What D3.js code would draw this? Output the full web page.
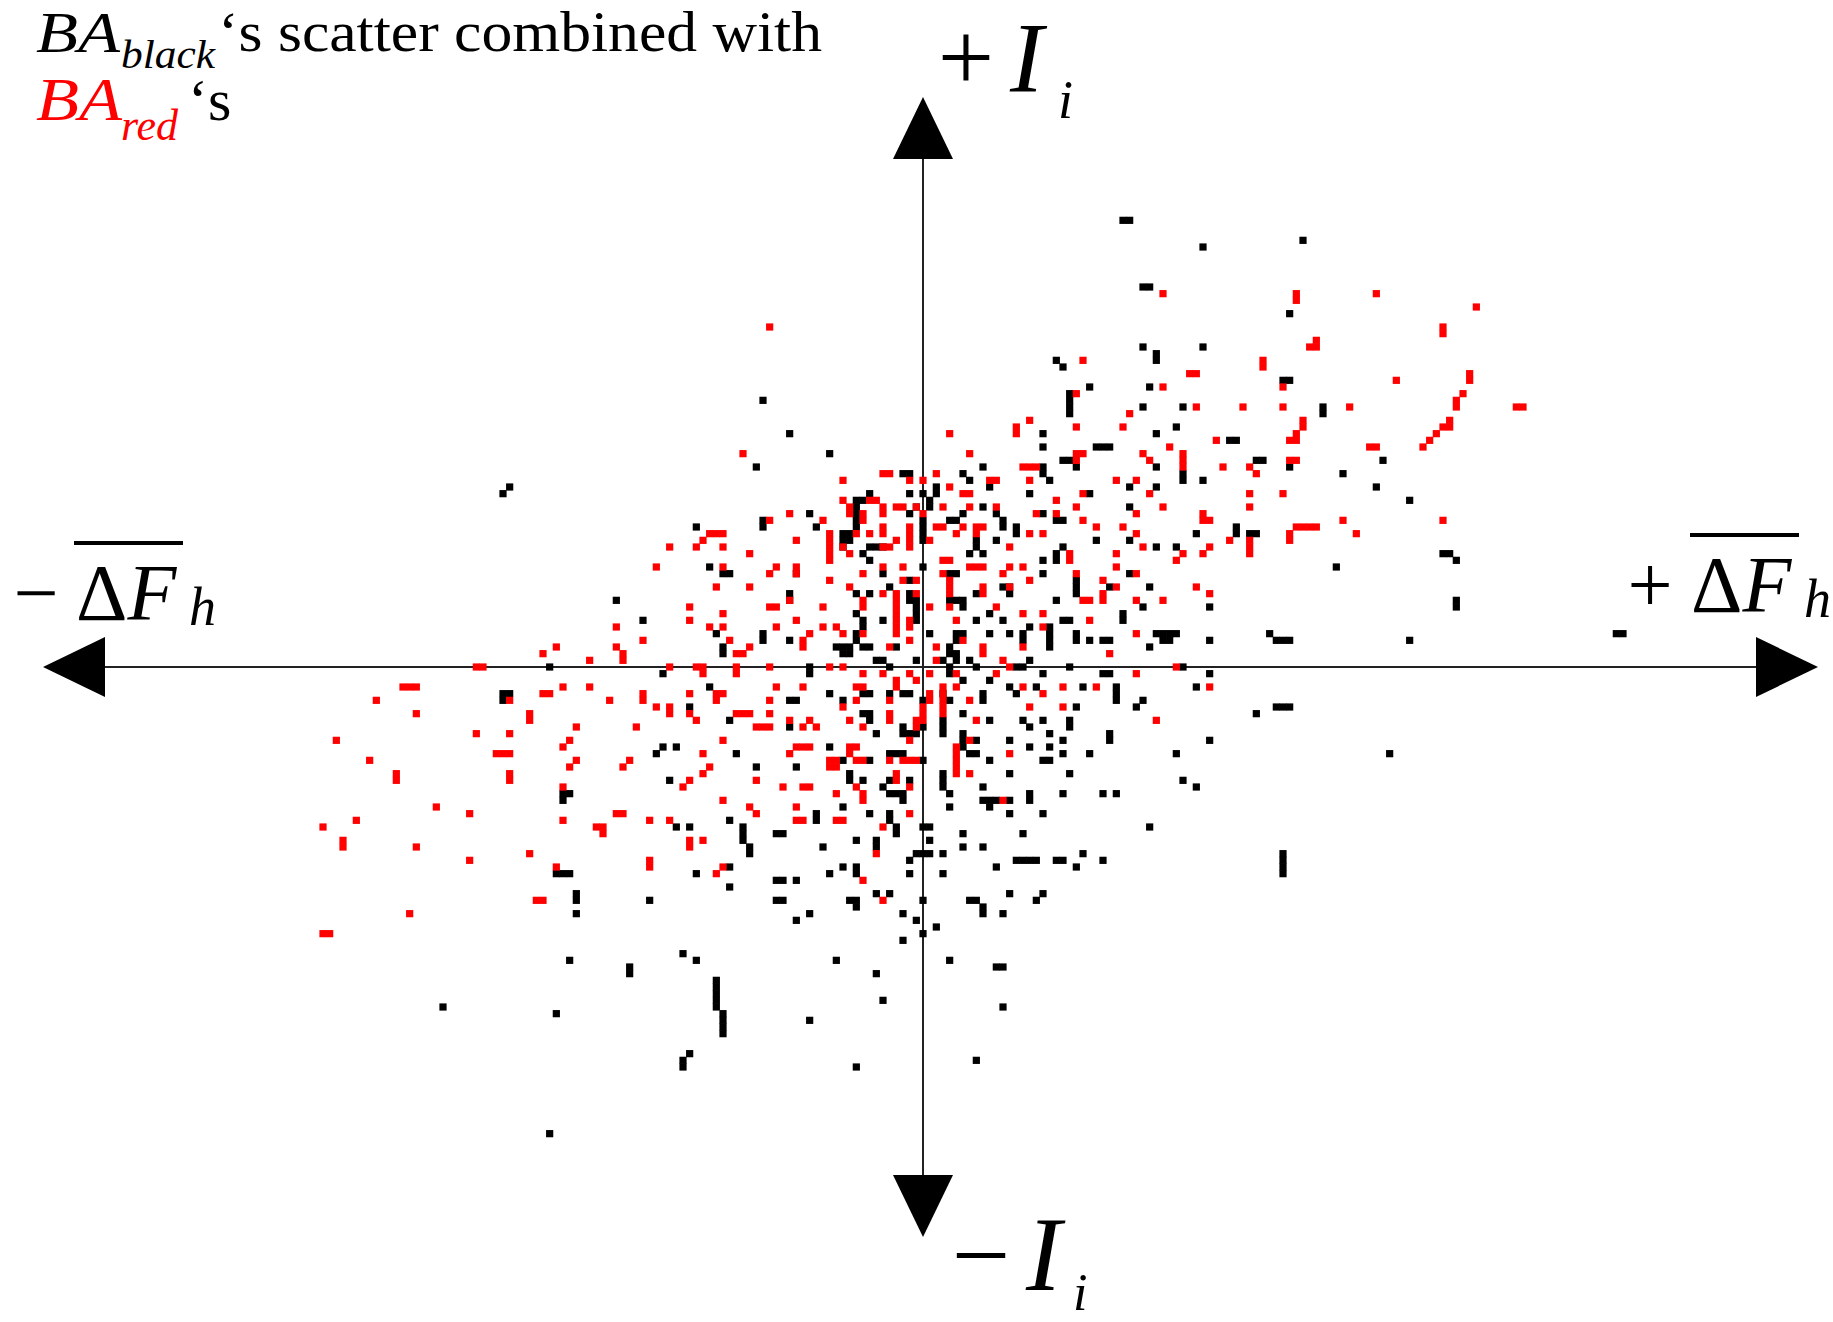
<!DOCTYPE html>
<html>
<head>
<meta charset="utf-8">
<script src="https://cdn.jsdelivr.net/npm/d3@7"></script>
<style>
  html, body { margin: 0; padding: 0; background: #fff; }
  svg { display: block; }
  text { font-family: "Liberation Serif", "Times New Roman", serif; }
</style>
</head>
<body>
<svg id="chart" width="1833" height="1322"></svg>
<script>
// Grid cells of the two scatters, in axis units: [ΔF_h, I_i]
const blackCore = [
  [-8,16],[0,15],[-6,14],[4,14],[5,14],[-2,13],[-5,12],[12,12],[13,12],[13,11],[-10,11],[-8,11],[-2,11],[-2,10],[8,11],[4,10],[5,10],[6,10],
  [6,9],[-10,8],[-1,10],[-1,9],[-1,8],[-1,7],[10,8],[-9,7],[-9,6],[-6,7],[8,7],[12,7],[16,6],[-10,5],[-10,4],[1,5],[5,5],[6,5],[5,4],[10,5],
  [13,5],[15,5],[15,4],[-9,3],[-8,3],[-4,3],[-13,3],[-12,3],[-11,3],[-12,2],[-11,2],[4,3],[4,2],[5,2],[7,1],[3,1],[5,1],[-1,1],[-7,1],[-6,1],
  [16,1],[14,0],[15,0],[-5,0],[4,0],[4,-1],[6,-2],[8,0],[10,-2],[13,-3],[17,-3],[-14,-4],[-9,-4],[-8,-4],[-5,-4],[-3,-4],[-2,-4],[3,-4],[4,-5],
  [9,-4],[9,-5],[14,-4],[-12,-5],[0,-5],[-9,-7],[-8,-7],[-8,-8],[6,-7],[10,-8],[15,-8],[3,-8],[3,-9],[3,-10],[16,-9],[-7,-10],[-3,-9],[-3,-10],
  [-2,-10],[-1,-10],[0,-9],[6,-10],[6,-11],[6,-12],[8,-11],[13,-11],[16,-12],[-14,-12],[-12,-14],[-8,-14],[-5,-13],[-4,-13],[-3,-13],[0,-14],
  [7,-13],[8,-13],[10,-14],[13,-16],[-11,-16],[3,-16]
];

const blackOuter = [
  // upper right
  [30,67],[31,67],[42,63],[57,64],[33,57],[34,57],[55,53],[33,48],[42,48],[35,47],[35,46],[20,46],[21,45],[54,43],[55,43],[25,42],[34,42],
  [22,41],[22,40],[22,39],[22,38],[33,39],[39,39],[60,39],[60,38],[38,36],[35,35],[18,35],[18,33],[26,33],[27,33],[28,33],[46,34],[47,34],
  [21,31],[22,31],[23,30],[18,30],[18,29],[50,31],[51,31],[55,30],[35,30],[69,31],[63,29],
  [6,29],[9,30],[7,28],[19,28],[39,29],[39,28],[42,28],[2,27],[2,26],[10,27],[31,27],[35,27],[68,27],[0,26],[16,26],[25,26],[73,25],[9,24],
  [31,24],[1,25],[1,24],[6,23],[11,23],[18,23],[0,22],[0,21],[0,20],[0,19],[4,22],[5,22],[12,22],[12,21],[20,22],[21,22],[14,21],[14,20],
  [41,20],[47,21],[47,20],[49,20],[50,20],[11,19],[8,19],[8,18],[26,19],[31,19],[21,18],[35,18],[38,18],[7,17],[9,17],[78,17],[79,17],[80,16],
  [20,17],[20,16],[18,16],[62,15],[18,14],[31,14],[28,12],[34,12],[23,13],[23,12],[23,11],[20,10],[33,9],[43,9],[80,10],[80,9],[21,7],[22,7],
  [30,8],[30,7],[19,6],[19,5],[19,4],[19,3],[23,5],[23,4],[35,5],[36,5],[37,5],[38,5],[36,4],[37,4],[52,5],[25,4],[27,4],[28,4],[43,4],
  [53,4],[54,4],[55,4],[73,4],[104,5],[105,5],[34,3],[22,0],[39,0],
  // upper left
  [-24,40],[-20,35],[-14,32],[-25,30],[-63,26],[-62,27],[-34,21],[-46,10],[-42,7],[-56,0],[-2,29],[-3,29],[-8,26],[-10,25],[-10,24],[-9,25],
  [-17,23],[-24,22],[-24,21],[-16,21],[-12,20],[-12,19],[-12,18],[-11,20],[-11,19],[-10,23],[-10,22],[-10,21],[-8,18],[-7,18],[-6,18],[-32,15],
  [-30,14],[-29,14],[-19,14],[-9,17],[-20,11],[-20,10],[-24,5],[-24,4],[-20,4],[-31,5],[-30,3],[-30,2],[-2,26],[-1,24],[-2,23],[-17,0],
  // lower right
  [18,-1],[27,-1],[28,-1],[43,-1],[24,-3],[29,-3],[29,-4],[29,-5],[41,-3],[33,-5],[23,-6],[32,-6],[53,-6],[54,-6],[55,-6],[50,-7],[18,-8],
  [22,-8],[22,-9],[19,-10],[21,-11],[28,-10],[28,-11],[43,-11],[19,-12],[21,-13],[25,-13],[38,-13],[70,-13],[18,-14],[19,-14],[3,-17],[3,-18],
  [22,-16],[39,-17],[41,-18],[9,-18],[4,-19],[16,-19],[16,-20],[21,-19],[27,-19],[29,-19],[9,-20],[10,-20],[11,-20],[13,-20],[4,-21],[10,-21],
  [13,-22],[18,-22],[0,-24],[1,-24],[34,-24],[6,-25],[15,-25],[1,-26],[6,-27],[9,-27],[0,-28],[1,-28],[3,-28],[24,-28],[54,-28],[54,-29],
  [54,-30],[54,-31],[14,-29],[15,-29],[16,-29],[17,-29],[20,-29],[21,-29],[27,-29],[11,-30],[23,-30],[3,-31],[13,-34],[18,-34],[0,-35],[7,-35],
  [8,-35],[17,-35],[9,-36],[9,-37],[12,-37],[2,-39],[0,-40],[4,-44],[11,-45],[12,-45],[12,-51],[8,-59],
  // lower left
  [-39,-1],[-32,-3],[-17,-1],[-63,-4],[-62,-4],[-63,-5],[-20,-5],[-19,-5],[-35,-6],[-29,-8],[-20,-9],[-39,-12],[-37,-12],[-40,-13],[-28,-13],
  [-25,-15],[-19,-15],[-38,-17],[-11,-17],[-9,-17],[-5,-17],[-2,-17],[-54,-19],[-53,-19],[-54,-20],[-6,-18],[-5,-19],[-4,-19],[-3,-19],[-3,-20],
  [-12,-21],[-16,-22],[-16,-23],[-8,-22],[-5,-22],[-5,-23],[-29,-23],[-37,-24],[-35,-24],[-27,-24],[-27,-25],[-27,-26],[-22,-25],[-21,-25],
  [-4,-24],[-4,-25],[-26,-27],[-26,-28],[-15,-27],[-10,-26],[-7,-26],[-7,-27],[-1,-28],[-2,-29],[-55,-31],[-54,-31],[-53,-31],[-29,-30],
  [-34,-31],[-14,-31],[-12,-30],[-10,-30],[-10,-31],[-2,-31],[-22,-32],[-21,-32],[-19,-32],[-29,-33],[-52,-34],[-52,-35],[-41,-35],[-22,-35],
  [-21,-35],[-7,-34],[-5,-34],[-11,-35],[-10,-35],[-10,-36],[-52,-37],[-17,-37],[-19,-38],[-3,-37],[-1,-38],[-3,-41],[-36,-43],[-34,-44],
  [-53,-44],[-13,-44],[-44,-45],[-44,-46],[-7,-46],[-31,-47],[-31,-48],[-31,-49],[-31,-50],[-31,-51],[-30,-52],[-30,-53],[-30,-54],[-30,-55],
  [-6,-50],[-72,-51],[-55,-52],[-17,-53],[-35,-58],[-36,-59],[-36,-60],[-10,-60],[-56,-70]
];

const redCore = [
  [-14,16],[-6,15],[-3,15],[3,16],[4,16],[7,15],[8,15],[9,15],[13,15],[15,15],[-9,14],[3,14],[12,14],[16,13],[-14,13],[-3,13],[-1,13],[4,13],
  [13,12],[-11,12],[-6,11],[-4,11],[-4,10],[-4,9],[-4,8],[-4,7],[-4,6],[-4,5],[-1,11],[4,12],[4,11],[9,12],[9,11],[-9,10],[-9,9],[-15,9],
  [1,9],[4,9],[11,9],[15,8],[-2,7],[-2,6],[5,7],[-15,6],[-13,6],[-12,5],[-9,5],[6,4],[-2,4],[-5,3],[2,3],[9,3],[9,2],[15,3],[12,1],[2,1],
  [-12,0],[-14,0],[-6,-1],[-2,-1],[5,-1],[1,-1],[11,-1],[13,0],[-9,-1],[-4,-2],[-4,-3],[-1,-2],[-10,-3],[-9,-3],[1,-4],[1,-5],[3,-3],[3,-4],
  [3,-5],[3,-6],[3,-7],[5,-3],[15,-3],[16,-6],[7,-5],[-12,-6],[-10,-5],[-5,-5],[0,-6],[0,-7],[0,-8],[-1,-8],[-5,-7],[-5,-8],[-11,-8],[-9,-9],
  [8,-8],[-2,-11],[-1,-9],[7,-11],[13,-13],[5,-12],[-11,-12],[-10,-12],[-11,-13],[-14,-14],[-13,-14],[-10,-14],[-9,-14],[-5,-14],[-3,-14],
  [-2,-14],[-1,-14],[5,-13],[5,-14],[5,-15],[5,-16],[-14,-15],[-13,-15],[-4,-16],[7,-16]
];

const redOuter = [
  // upper right
  [36,56],[56,56],[56,55],[68,56],[83,54],[78,51],[78,50],[59,49],[58,48],[59,48],[24,46],[51,46],[51,45],[40,44],[41,44],[54,42],[71,43],
  [82,44],[82,43],[81,41],[80,40],[80,39],[79,37],[79,36],[78,36],[77,35],[76,34],[75,33],[89,39],[90,39],[23,41],[36,42],[41,39],[48,39],
  [54,39],[64,39],[31,38],[16,37],[14,36],[14,35],[23,36],[30,36],[57,37],[57,36],[56,35],[55,34],[56,34],[4,35],[37,33],[44,34],[67,33],
  [68,33],[7,32],[23,32],[24,32],[23,31],[33,32],[34,31],[39,32],[39,31],[39,30],[15,30],[16,30],[17,30],[49,30],[50,29],[55,31],[56,31],[45,30],
  [2,29],[0,28],[10,28],[11,28],[16,28],[29,28],[32,28],[4,27],[6,26],[7,26],[24,26],[34,26],[49,26],[54,26],[3,24],[7,24],[11,24],[20,25],
  [23,24],[36,24],[49,24],[0,23],[17,23],[20,23],[32,23],[42,23],[2,21],[3,21],[6,21],[8,21],[9,21],[8,20],[24,22],[26,21],[30,21],[42,22],
  [43,22],[56,21],[57,21],[58,21],[59,21],[63,22],[78,22],[32,20],[65,20],[16,20],[18,20],[5,20],[55,20],[55,19],[46,19],[49,19],[1,19],[13,18],
  [33,18],[43,18],[49,18],[49,17],[22,17],[22,16],[29,17],[39,17],[42,17],[38,16],[29,15],[23,14],[32,14],[27,13],[29,12],[41,12],[43,11],
  [24,10],[25,10],[27,11],[27,10],[32,10],[36,10],[18,8],[25,7],[18,6],[32,5],[28,2],[38,0],
  // upper left
  [-23,51],[-27,32],[-12,28],[-6,29],[-5,29],[-12,25],[-8,25],[-7,25],[-2,28],[-20,23],[-11,23],[-6,23],[-23,22],[-15,22],[-9,22],[-32,20],
  [-31,20],[-30,20],[-33,19],[-34,18],[-30,18],[-38,18],[-26,17],[-40,15],[-30,15],[-31,12],[-26,12],[-23,14],[-22,15],[-19,19],[-19,15],
  [-19,14],[-35,9],[-35,7],[-32,6],[-30,8],[-30,6],[-29,4],[-28,2],[-27,2],[-26,3],[-46,6],[-46,3],[-45,2],[-45,1],[-42,4],[-50,1],[-57,2],
  [-55,3],[-67,0],[-66,0],[-38,0],[-34,0],[-33,0],[-28,0],[-23,0],[-23,9],[-22,9],[-22,6],[-19,7],[-20,10],[-18,3],[-18,4],[-17,5],
  [-14,20],[-14,19],[-14,18],[-14,17],[-11,24],[-9,23],[-6,24],[-6,21],[-6,20],[-6,18],[-2,21],[-2,20],[-2,19],[-2,18],[-4,19],[-12,18],
  [-8,20],[-10,20],[-11,17],[-5,18],[-4,24],[-3,24],[-1,24],
  // lower right
  [32,-1],[21,-3],[26,-3],[43,-3],[18,-4],[21,-6],[35,-8],[12,-20],
  // lower left
  [-33,-1],[-28,-1],[-78,-3],[-77,-3],[-76,-3],[-54,-3],[-50,-3],[-22,-3],[-18,-3],[-62,-5],[-57,-4],[-56,-4],[-42,-4],[-42,-5],[-35,-4],
  [-31,-4],[-30,-4],[-31,-5],[-82,-5],[-47,-5],[-23,-5],[-40,-6],[-38,-6],[-38,-7],[-35,-7],[-34,-8],[-28,-7],[-27,-7],[-26,-7],[-23,-7],
  [-76,-7],[-59,-7],[-59,-8],[-52,-9],[-43,-9],[-25,-9],[-24,-9],[-23,-9],[-20,-8],[-18,-9],[-17,-8],[-16,-9],[-67,-10],[-62,-10],[-88,-11],
  [-53,-11],[-54,-12],[-30,-11],[-64,-13],[-63,-13],[-62,-13],[-33,-13],[-20,-13],[-19,-12],[-18,-12],[-17,-12],[-83,-14],[-52,-14],[-53,-15],
  [-44,-14],[-45,-15],[-32,-15],[-79,-16],[-79,-17],[-62,-16],[-62,-17],[-33,-16],[-35,-17],[-36,-18],[-25,-17],[-21,-18],[-18,-18],[-17,-18],
  [-10,-18],[-4,-17],[-2,-18],[-54,-18],[-13,-19],[-30,-20],[-26,-21],[-25,-22],[-9,-19],[-9,-20],[-73,-21],[-68,-22],[-46,-22],[-45,-22],
  [-19,-21],[-2,-22],[-85,-23],[-54,-23],[-41,-23],[-38,-23],[-19,-23],[-18,-23],[-13,-23],[-12,-23],[-90,-24],[-49,-24],[-48,-24],[-6,-24],
  [-48,-25],[-87,-26],[-87,-27],[-76,-27],[-35,-26],[-35,-27],[-33,-26],[-7,-28],[-68,-29],[-59,-28],[-41,-29],[-41,-30],[-55,-30],[-31,-31],
  [-30,-30],[-9,-32],[-58,-35],[-57,-35],[-6,-35],[-77,-37],[-90,-40],[-89,-40]
];

const blackCells = blackCore.concat(blackOuter);
const redCells = redCore.concat(redOuter);

// Axis extents (arrow tips) in the same units
const xDomain = [-132, 134.25];
const yDomain = [-85.5, 85.5];

const svg = d3.select("#chart");
svg.append("rect").attr("width", 1833).attr("height", 1322).attr("fill", "#fff");

const x = d3.scaleLinear().domain(xDomain).range([43, 1818]);
const y = d3.scaleLinear().domain(yDomain).range([1237, 97]);

// each cell is drawn a touch larger than the grid step so neighbours fuse into dashes
const cw = (x(1) - x(0)) * 1.08;
const ch = (y(0) - y(1)) * 1.08;

// axes with arrow heads
const axes = svg.append("g");
const arrowLen = 62, arrowHalf = 30;
axes.append("line")
  .attr("x1", x(xDomain[0]) + arrowLen).attr("x2", x(xDomain[1]) - arrowLen)
  .attr("y1", y(0)).attr("y2", y(0))
  .attr("stroke", "#222").attr("stroke-width", 2);
axes.append("line")
  .attr("x1", x(0)).attr("x2", x(0))
  .attr("y1", y(yDomain[1]) + arrowLen).attr("y2", y(yDomain[0]) - arrowLen)
  .attr("stroke", "#222").attr("stroke-width", 2);

const tri = (pts) => "M" + pts.map(p => p.join(",")).join("L") + "Z";
const x0 = x(0), y0 = y(0);
const xl = x(xDomain[0]), xr = x(xDomain[1]), yt = y(yDomain[1]), yb = y(yDomain[0]);
axes.selectAll("path.arrow")
  .data([
    [[xl, y0], [xl + arrowLen, y0 - arrowHalf], [xl + arrowLen, y0 + arrowHalf]],
    [[xr, y0], [xr - arrowLen, y0 - arrowHalf], [xr - arrowLen, y0 + arrowHalf]],
    [[x0, yt], [x0 - arrowHalf, yt + arrowLen], [x0 + arrowHalf, yt + arrowLen]],
    [[x0, yb], [x0 - arrowHalf, yb - arrowLen], [x0 + arrowHalf, yb - arrowLen]]
  ])
  .join("path")
  .attr("class", "arrow")
  .attr("d", tri)
  .attr("fill", "#000");

// scatter cells
const drawCells = (cells, color) => {
  svg.append("g").selectAll("rect")
    .data(cells)
    .join("rect")
    .attr("x", d => x(d[0]) - cw / 2)
    .attr("y", d => y(d[1]) - ch / 2)
    .attr("width", cw)
    .attr("height", ch)
    .attr("fill", color);
};
drawCells(blackCells, "#000");
drawCells(redCells, "#ff0000");

// title
const t = svg.append("g");
t.append("text").attr("x", 36).attr("y", 52).attr("font-size", 58).attr("font-style", "italic")
  .attr("textLength", 84).attr("lengthAdjust", "spacingAndGlyphs").text("BA");
t.append("text").attr("x", 121).attr("y", 68).attr("font-size", 40).attr("font-style", "italic")
  .attr("textLength", 94).attr("lengthAdjust", "spacingAndGlyphs").text("black");
t.append("text").attr("x", 218).attr("y", 51).attr("font-size", 56)
  .attr("textLength", 604).attr("lengthAdjust", "spacingAndGlyphs").text("\u2018s scatter combined with");
t.append("text").attr("x", 36).attr("y", 120).attr("font-size", 62).attr("font-style", "italic").attr("fill", "#ff0000")
  .attr("textLength", 86).attr("lengthAdjust", "spacingAndGlyphs").text("BA");
t.append("text").attr("x", 121).attr("y", 140).attr("font-size", 44).attr("font-style", "italic").attr("fill", "#ff0000").text("red");
t.append("text").attr("x", 188).attr("y", 120).attr("font-size", 60).text("\u2018s");

// axis labels
const lab = svg.append("g");
// + I_i
lab.append("text").attr("x", 966).attr("y", 91).attr("font-size", 100).attr("text-anchor", "middle").text("+");
lab.append("text").attr("x", 1010).attr("y", 91).attr("font-size", 100).attr("font-style", "italic").text("I");
lab.append("text").attr("x", 1058).attr("y", 118).attr("font-size", 54).attr("font-style", "italic").text("i");
// − I_i
lab.append("text").attr("x", 981).attr("y", 1290).attr("font-size", 104).attr("text-anchor", "middle").text("\u2212");
lab.append("text").attr("x", 1026).attr("y", 1290).attr("font-size", 106).attr("font-style", "italic").text("I");
lab.append("text").attr("x", 1073).attr("y", 1310).attr("font-size", 52).attr("font-style", "italic").text("i");
// − ΔF̄_h
lab.append("text").attr("x", 36).attr("y", 620).attr("font-size", 80).attr("text-anchor", "middle").text("\u2212");
const dl = lab.append("text").attr("x", 76).attr("y", 620).attr("font-size", 80);
dl.append("tspan").text("\u0394");
dl.append("tspan").attr("font-style", "italic").text("F");
lab.append("line").attr("x1", 74).attr("x2", 183).attr("y1", 543).attr("y2", 543).attr("stroke", "#000").attr("stroke-width", 4);
lab.append("text").attr("x", 189).attr("y", 625).attr("font-size", 54).attr("font-style", "italic").text("h");
// + ΔF̄_h
lab.append("text").attr("x", 1650).attr("y", 612).attr("font-size", 80).attr("text-anchor", "middle").text("+");
const dr = lab.append("text").attr("x", 1691).attr("y", 612).attr("font-size", 80);
dr.append("tspan").text("\u0394");
dr.append("tspan").attr("font-style", "italic").text("F");
lab.append("line").attr("x1", 1690).attr("x2", 1799).attr("y1", 535).attr("y2", 535).attr("stroke", "#000").attr("stroke-width", 4);
lab.append("text").attr("x", 1804).attr("y", 617).attr("font-size", 54).attr("font-style", "italic").text("h");
</script>
</body>
</html>
